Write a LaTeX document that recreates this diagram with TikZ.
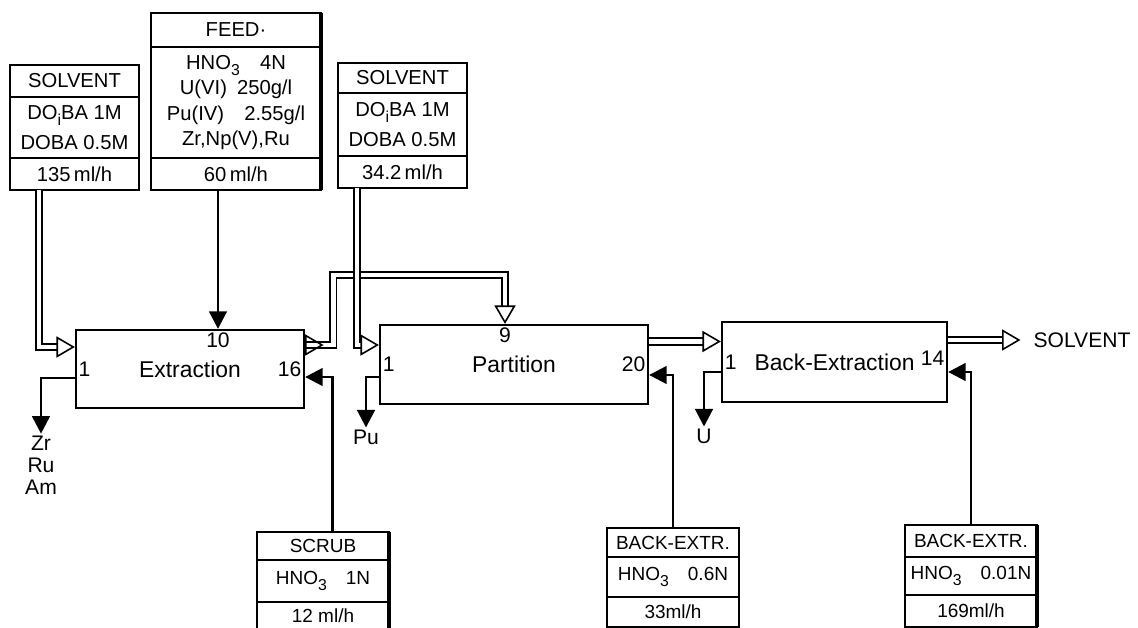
\documentclass[tikz,border=0pt]{standalone}
\usepackage{fontspec}
\setmainfont{Liberation Sans}
\usetikzlibrary{arrows.meta,positioning}

\newcommand{\chemsub}[1]{\raisebox{-0.6ex}{\small #1}}

\begin{document}
\begin{tikzpicture}[x=0.02cm, y=-0.02cm,
  unit/.style={draw,line width=1.3pt,minimum height=1.58cm,font=\fontsize{13}{15}\selectfont},
  cell/.style={draw,line width=1.2pt,outer sep=0pt,inner xsep=1pt,inner ysep=1pt,align=center,font=\fontsize{11.5}{14.5}\selectfont},
  lowcell/.style={cell,minimum width=2.64cm,font=\fontsize{10.8}{13}\selectfont},
  stage/.style={inner sep=2pt,font=\fontsize{12}{14}\selectfont},
  outlet/.style={inner sep=1pt,align=center,font=\fontsize{12}{12.5}\selectfont},
  organic/.style={double,double distance=2.8pt,line width=0.9pt,-{Triangle[open,length=10.5pt,width=12pt]}},
  aqueous/.style={line width=1.6pt,-{Triangle[length=10pt,width=10pt]}},
  heavy/.style={line width=2.6pt}]
  \useasboundingbox (0,0) rectangle (1138,628);
  % Feed and solvent boxes (top)
  \node[cell,minimum width=2.58cm,minimum height=0.64cm,anchor=north west] (solAh) at (10,65) {SOLVENT};
  \node[cell,minimum width=2.58cm,minimum height=1.22cm,below=0pt of solAh] (solAb) {DO\chemsub{i}BA 1M\\[3pt]DOBA 0.5M};
  \node[cell,minimum width=2.58cm,minimum height=0.64cm,below=0pt of solAb] (solAr) {135\,ml/h};
  \node[cell,minimum width=3.4cm,minimum height=0.68cm,anchor=north west] (feedh) at (151,13) {FEED·};
  \node[cell,minimum width=3.4cm,minimum height=2.22cm,below=0pt of feedh] (feedb) {HNO\chemsub{3}\quad 4N\\U(VI)\enspace 250g/l\\Pu(IV)\quad 2.55g/l\\Zr,Np(V),Ru};
  \node[cell,minimum width=3.4cm,minimum height=0.64cm,below=0pt of feedb] (feedr) {60\,ml/h};
  \node[cell,minimum width=2.58cm,minimum height=0.6cm,anchor=north west] (solBh) at (338,63) {SOLVENT};
  \node[cell,minimum width=2.58cm,minimum height=1.26cm,below=0pt of solBh] (solBb) {DO\chemsub{i}BA 1M\\[3pt]DOBA 0.5M};
  \node[cell,minimum width=2.58cm,minimum height=0.64cm,below=0pt of solBb] (solBr) {34.2\,ml/h};
  \draw[heavy] (feedh.north east) -- (feedr.south east);
  % Contactors
  \node[unit,minimum width=4.56cm,minimum height=1.56cm] (ext) at (190,369) {Extraction};
  \node[unit,minimum width=5.36cm] (part) at (514,364.5) {Partition};
  \node[unit,minimum width=4.5cm,minimum height=1.6cm] (back) at (834.5,362) {Back-Extraction\hspace{0.5cm}};
  \node[stage,anchor=west] (e1) at (ext.west) {1};
  \node[stage,anchor=east] (e16) at (ext.east) {16};
  \node[stage,anchor=west] (p1) at (part.west) {1};
  \node[stage,anchor=east] (p20) at (part.east) {20};
  \node[stage,anchor=west] (b1) at (back.west) {1};
  \node[stage,anchor=east,yshift=2pt] (b14) at (back.east) {14};
  % Scrub and back-extractant boxes (bottom)
  \node[lowcell,minimum height=0.56cm,anchor=north west] (scrubh) at (257,532) {SCRUB};
  \node[lowcell,minimum height=0.84cm,below=0pt of scrubh] (scrubb) {HNO\chemsub{3}\quad 1N};
  \node[lowcell,minimum height=0.56cm,below=0pt of scrubb] (scrubr) {12 ml/h};
  \node[lowcell,minimum height=0.58cm,anchor=north west] (bxAh) at (607,528) {BACK-EXTR.};
  \node[lowcell,minimum height=0.8cm,below=0pt of bxAh] (bxAb) {HNO\chemsub{3}\quad 0.6N};
  \node[lowcell,minimum height=0.6cm,below=0pt of bxAb] (bxAr) {33ml/h};
  \node[lowcell,minimum height=0.64cm,anchor=north west] (bxBh) at (905,525) {BACK-EXTR.};
  \node[lowcell,minimum height=0.76cm,below=0pt of bxBh] (bxBb) {HNO\chemsub{3}\quad 0.01N};
  \node[lowcell,minimum height=0.64cm,below=0pt of bxBb] (bxBr) {169ml/h};
  \draw[heavy] (scrubh.north east) -- (scrubr.south east);
  \draw[heavy] (bxBh.north east) -- (bxBr.south east);
  % Outlets
  \node[outlet] (raff) at (41,465) {Zr\\Ru\\Am};
  \node[outlet] (pu) at (366,437) {Pu};
  \node[outlet] (u) at (704,436) {U};
  \node[outlet,font=\fontsize{12}{14}\selectfont] (solvout) at (1082,340) {SOLVENT};
  % Aqueous streams
  \coordinate (feedout) at ([xshift=-0.36cm]feedr.south);
  \draw[aqueous] (feedout) -- (feedout |- ext.north);
  \draw[aqueous] ([yshift=-0.18cm]ext.west) -| (raff.north);
  \draw[aqueous] ([yshift=-0.25cm]part.west) -| (pu.north);
  \draw[aqueous] ([yshift=-0.2cm]back.west) -| (u.north);
  \coordinate (scrubin) at ([xshift=0.19cm]scrubh.north);
  \draw[aqueous] (scrubin) |- ([yshift=-0.16cm]ext.east);
  \draw[aqueous] (bxAh.north) |- ([yshift=-0.21cm]part.east);
  \draw[aqueous] (bxBh.north) |- ([yshift=-0.2cm]back.east);
  % Organic streams
  \coordinate (solAout) at ([xshift=-0.71cm]solAr.south);
  \draw[organic] (solAout) |- ([yshift=0.44cm]ext.west);
  \coordinate (recyc) at (505,275);
  \draw[organic,{Triangle[open,reversed,length=10.5pt,width=12pt]}-{Triangle[open,length=10.5pt,width=12pt]}]
    ([yshift=0.48cm]ext.east) -- ++(28,0) |- (recyc) -- (recyc |- part.north);
  \node[stage,anchor=north] (e10) at (feedout |- ext.north) {10};
  \node[stage,anchor=north] (p9) at (recyc |- part.north) {9};
  \coordinate (solBout) at ([xshift=-0.91cm]solBr.south);
  \draw[organic] (solBout) |- ([yshift=0.39cm]part.west);
  \coordinate (po) at ([yshift=0.46cm]part.east);
  \draw[organic] (po) -- (po -| back.west);
  \coordinate (bo) at ([yshift=0.44cm]back.east);
  \draw[organic,shorten >=0.22cm] (bo) -- (bo -| solvout.west);
\end{tikzpicture}
\end{document}
